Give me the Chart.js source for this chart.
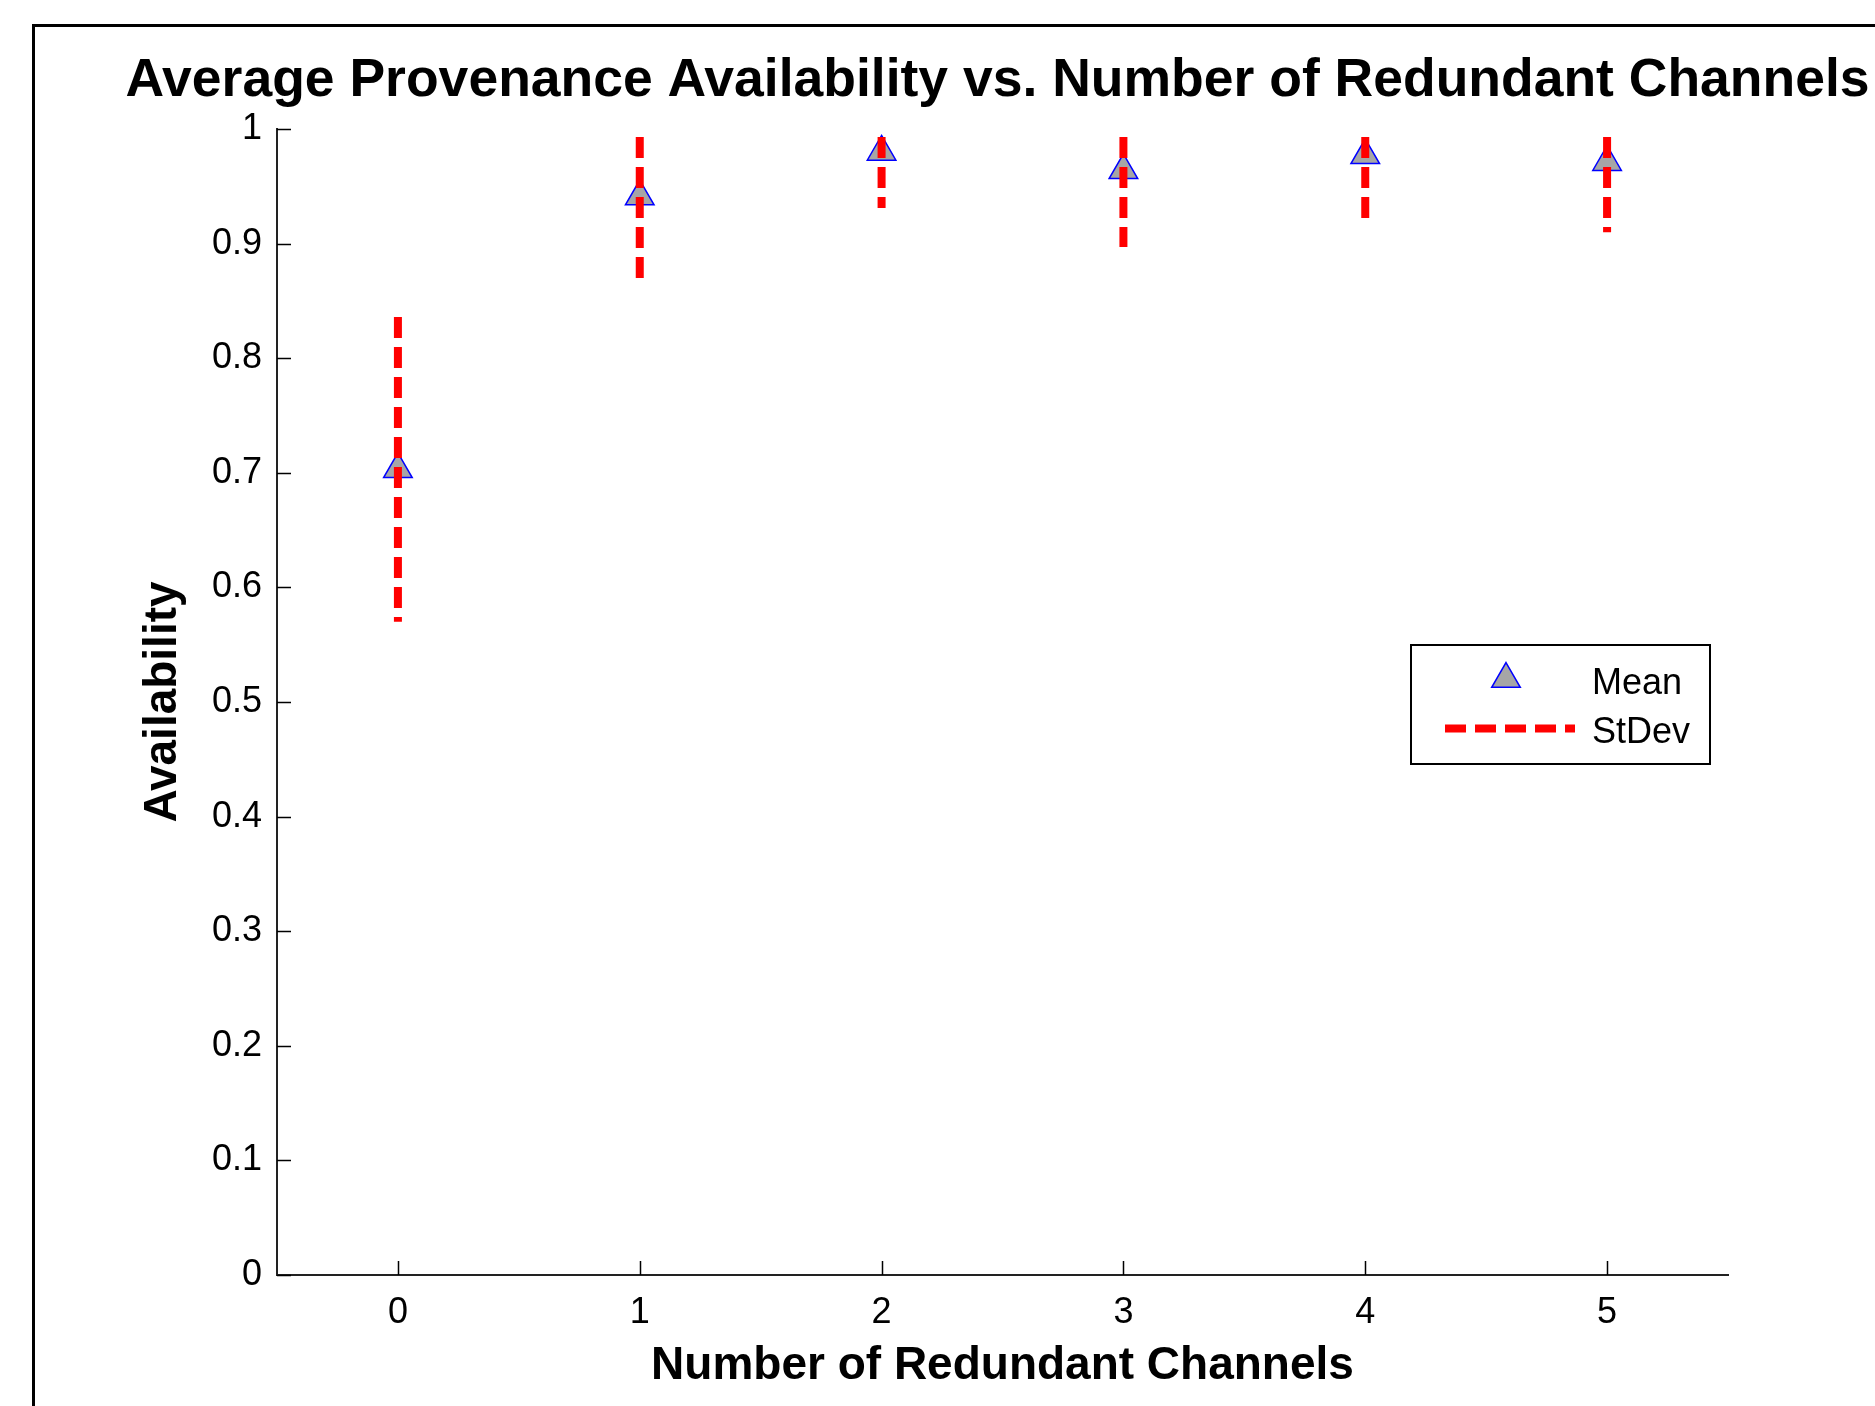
<!DOCTYPE html>
<html>
<head>
<meta charset="utf-8">
<script src="https://cdn.jsdelivr.net/npm/chart.js@4.4.1/dist/chart.umd.min.js"></script>
<style>
    html, body { margin: 0; padding: 0; background: #fff; overflow: hidden; }
    .frame {
        position: absolute; left: 32px; top: 24px;
        width: 1900px; height: 1450px;
        border-top: 3px solid #000; border-left: 3px solid #000;
    }
    canvas { position: absolute; left: 0; top: 0; }
</style>
</head>
<body>
<div class="frame"></div>
<canvas id="chart" width="1875" height="1406"></canvas>
<script>
const channels = [0, 1, 2, 3, 4, 5];
const meanAvailability = [0.703, 0.941, 0.980, 0.964, 0.977, 0.971];
const stdevLow = [0.570, 0.869, 0.931, 0.897, 0.921, 0.910];
const stdevHigh = [0.836, 0.993, 0.993, 0.993, 0.993, 0.993];
const xTickLabels = ['0', '1', '2', '3', '4', '5'];
const yTicks = [0, 0.1, 0.2, 0.3, 0.4, 0.5, 0.6, 0.7, 0.8, 0.9, 1];
const yTickLabels = ['0', '0.1', '0.2', '0.3', '0.4', '0.5', '0.6', '0.7', '0.8', '0.9', '1'];

const titleText = 'Average Provenance Availability vs. Number of Redundant Channels';
const FONT = "'Liberation Sans', Arial, Helvetica, sans-serif";
const RED = '#ff0000';
const GREY = '#a6a6a6';
const BLUE = '#0000ff';

// matlab style: inward ticks, title over the axes, boxed legend inside the plot
const matlabDecor = {
    id: 'matlabDecor',
    afterDraw: (chart) => {
        const { ctx, chartArea: ca, scales: { x, y } } = chart;
        ctx.save();

        ctx.strokeStyle = '#000';
        ctx.lineWidth = 1.5;
        ctx.beginPath();
        channels.forEach(v => {
            const px = Math.round(x.getPixelForValue(v)) + 0.5;
            ctx.moveTo(px, ca.bottom);
            ctx.lineTo(px, ca.bottom - 14);
        });
        yTicks.forEach(v => {
            const py = Math.round(y.getPixelForValue(v)) + 0.5;
            ctx.moveTo(ca.left, py);
            ctx.lineTo(ca.left + 14, py);
        });
        ctx.stroke();

        ctx.fillStyle = '#000';
        ctx.font = `bold 53.5px ${FONT}`;
        ctx.textAlign = 'center';
        ctx.textBaseline = 'middle';
        ctx.fillText(titleText, (ca.left + ca.right) / 2 - 5, ca.top - 47.5);

        const bx = ca.right - 317, by = ca.top + 516, bw = 299, bh = 119;
        ctx.fillStyle = '#fff';
        ctx.fillRect(bx, by, bw, bh);
        ctx.lineWidth = 2;
        ctx.strokeStyle = '#000';
        ctx.strokeRect(bx, by, bw, bh);

        ctx.fillStyle = GREY;
        ctx.strokeStyle = BLUE;
        ctx.lineWidth = 1.5;
        Chart.helpers.drawPoint(ctx, { pointStyle: 'triangle', radius: 16.5, borderWidth: 1.5, rotation: 0 }, bx + 95, by + 34);

        ctx.strokeStyle = RED;
        ctx.lineWidth = 8;
        ctx.setLineDash([21, 9]);
        ctx.beginPath();
        ctx.moveTo(bx + 34, by + 83.5);
        ctx.lineTo(bx + 164, by + 83.5);
        ctx.stroke();
        ctx.setLineDash([]);

        ctx.fillStyle = '#000';
        ctx.font = `36px ${FONT}`;
        ctx.textAlign = 'left';
        ctx.fillText('Mean', bx + 181, by + 39);
        ctx.fillText('StDev', bx + 181, by + 88);

        ctx.restore();
    }
};

const context = document.getElementById('chart').getContext('2d');
new Chart(context, {
    type: 'scatter',
    plugins: [matlabDecor],
    data: {
        datasets: [{
            label: 'Mean',
            data: channels.map((c, i) => ({ x: c, y: meanAvailability[i] })),
            pointStyle: 'triangle',
            pointRadius: 16.5,
            pointBackgroundColor: GREY,
            pointBorderColor: BLUE,
            pointBorderWidth: 1.5,
            showLine: false,
            order: 1
        }, {
            type: 'line',
            label: 'StDev',
            // top to bottom so the dash pattern starts at the top, null breaks the line
            data: channels.flatMap((c, i) => [
                { x: c, y: stdevHigh[i] },
                { x: c, y: stdevLow[i] },
                { x: c, y: null }
            ]),
            borderColor: RED,
            borderWidth: 8,
            borderDash: [21, 9],
            pointRadius: 0,
            spanGaps: false,
            fill: false,
            tension: 0,
            order: 0
        }]
    },
    options: {
        responsive: false,
        animation: false,
        devicePixelRatio: 1,
        layout: { padding: { top: 129, right: 147, bottom: 0, left: 0 } },
        plugins: {
            legend: { display: false },
            tooltip: { enabled: false },
            title: { display: false }
        },
        scales: {
            x: {
                type: 'linear',
                min: -0.5,
                max: 5.5,
                afterBuildTicks: (scale) => { scale.ticks = channels.map(v => ({ value: v })); },
                afterFit: (scale) => { scale.height = 131; },
                grid: { display: false, drawTicks: false, tickLength: 0 },
                border: { display: true, color: '#222', width: 2 },
                ticks: {
                    color: '#000',
                    font: { family: FONT, size: 36 },
                    padding: 16,
                    maxRotation: 0,
                    autoSkip: false,
                    callback: (v, i) => xTickLabels[i]
                },
                title: {
                    display: true,
                    text: 'Number of Redundant Channels',
                    color: '#000',
                    font: { family: FONT, size: 46, weight: 'bold' },
                    padding: { top: 0, bottom: 12 }
                }
            },
            y: {
                type: 'linear',
                min: 0,
                max: 1,
                afterBuildTicks: (scale) => { scale.ticks = yTicks.map(v => ({ value: v })); },
                afterFit: (scale) => { scale.width = 277; },
                grid: { display: false, drawTicks: false, tickLength: 0 },
                border: { display: true, color: '#222', width: 2 },
                ticks: {
                    color: '#000',
                    font: { family: FONT, size: 36 },
                    padding: 15,
                    autoSkip: false,
                    callback: (v, i) => yTickLabels[i]
                },
                title: {
                    display: true,
                    text: 'Availability',
                    color: '#000',
                    font: { family: FONT, size: 46, weight: 'bold' },
                    padding: { top: 136, bottom: 0 }
                }
            }
        }
    }
});
</script>
</body>
</html>
